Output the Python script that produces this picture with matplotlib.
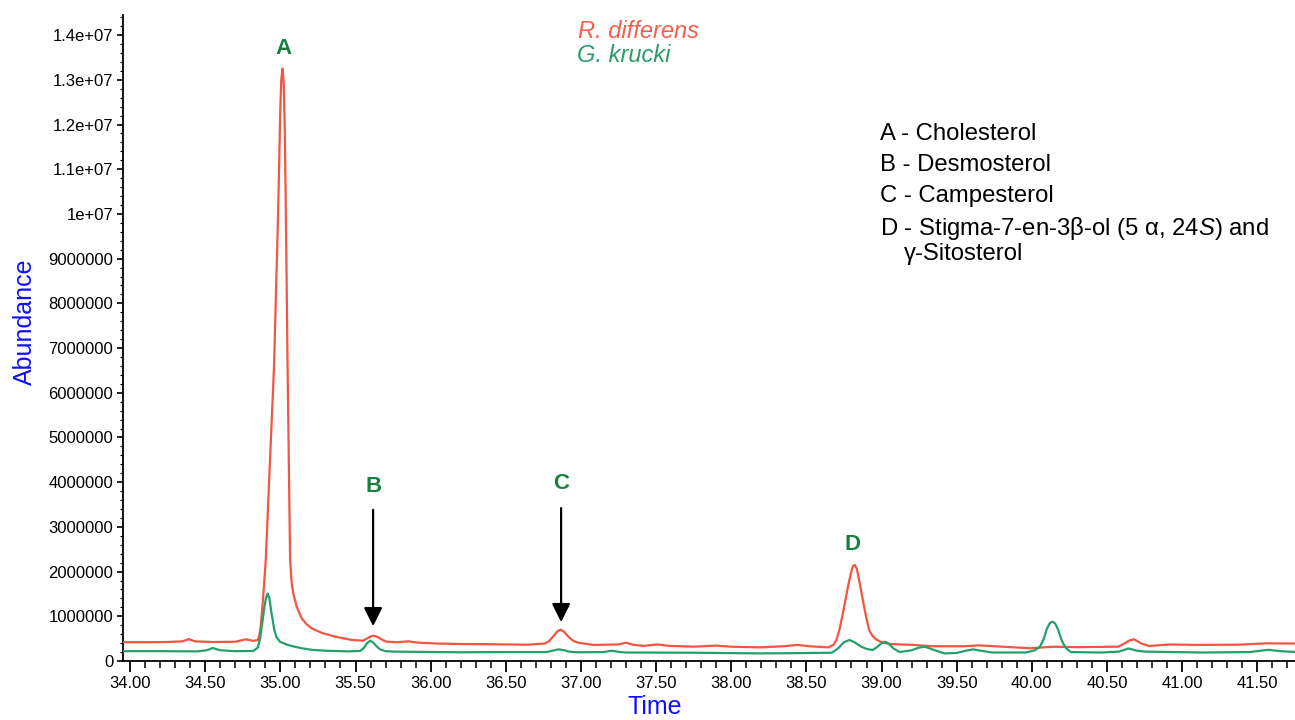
import matplotlib
matplotlib.use("Agg")
import matplotlib.pyplot as plt
from matplotlib.ticker import MultipleLocator, FixedLocator, FixedFormatter

plt.rcParams['font.family'] = ['Liberation Sans', 'DejaVu Sans']
plt.rcParams['mathtext.fontset'] = 'custom'
plt.rcParams['mathtext.rm'] = 'Liberation Sans'
plt.rcParams['mathtext.it'] = 'Liberation Sans:italic'

# ---------------- data (time in min, abundance in millions) ----------------
red_time = [33.95, 34.10, 34.25, 34.35, 34.39, 34.43, 34.55, 34.70, 34.77, 34.82,
            34.85, 34.862, 34.87, 34.885, 34.903, 34.93, 34.958, 34.985, 35.000, 35.006,
            35.014, 35.022, 35.03, 35.04, 35.048, 35.058, 35.065, 35.075, 35.086, 35.109,
            35.142, 35.175, 35.209, 35.275, 35.364, 35.475, 35.55, 35.58, 35.60, 35.62,
            35.645, 35.68, 35.71, 35.78, 35.85, 35.92, 36.05, 36.20, 36.40, 36.64,
            36.76, 36.79, 36.82, 36.845, 36.866, 36.89, 36.92, 36.95, 36.98, 37.08,
            37.25, 37.30, 37.35, 37.42, 37.51, 37.58, 37.75, 37.90, 38.00, 38.19,
            38.35, 38.44, 38.52, 38.646, 38.68, 38.70, 38.72, 38.745, 38.77, 38.795,
            38.81, 38.822, 38.835, 38.855, 38.884, 38.90, 38.918, 38.94, 38.963, 39.00,
            39.055, 39.21, 39.33, 39.55, 39.645, 39.75, 39.99, 40.145, 40.30, 40.576,
            40.62, 40.65, 40.678, 40.70, 40.73, 40.78, 40.917, 41.10, 41.37, 41.56,
            41.76]
red_abund = [0.42, 0.42, 0.425, 0.44, 0.49, 0.44, 0.425, 0.43, 0.485, 0.45,
             0.47, 0.6, 0.8, 1.4, 2.26, 4.4, 6.6, 10.0, 12.4, 13.0,
             13.25, 12.95, 11.8, 9.0, 6.6, 4.0, 2.26, 1.75, 1.51, 1.21,
             0.955, 0.82, 0.73, 0.63, 0.545, 0.47, 0.455, 0.51, 0.55, 0.565,
             0.54, 0.47, 0.43, 0.42, 0.44, 0.41, 0.39, 0.38, 0.375, 0.365,
             0.39, 0.45, 0.57, 0.67, 0.70, 0.65, 0.53, 0.45, 0.41, 0.36,
             0.37, 0.41, 0.36, 0.34, 0.37, 0.34, 0.32, 0.345, 0.32, 0.305,
             0.33, 0.36, 0.33, 0.305, 0.36, 0.47, 0.70, 1.10, 1.55, 1.95,
             2.12, 2.15, 2.07, 1.74, 1.21, 0.95, 0.69, 0.56, 0.485, 0.42,
             0.38, 0.36, 0.33, 0.33, 0.35, 0.33, 0.285, 0.32, 0.31, 0.32,
             0.40, 0.46, 0.485, 0.45, 0.39, 0.335, 0.37, 0.36, 0.365, 0.395,
             0.39]

green_time = [33.95, 34.20, 34.45, 34.51, 34.55, 34.60, 34.70, 34.82, 34.85, 34.865,
              34.876, 34.894, 34.905, 34.916, 34.927, 34.938, 34.96, 34.975, 34.998, 35.04,
              35.076, 35.142, 35.209, 35.30, 35.45, 35.53, 35.555, 35.575, 35.597, 35.615,
              35.64, 35.663, 35.70, 35.75, 36.196, 36.50, 36.77, 36.81, 36.85, 36.89,
              36.92, 36.97, 37.15, 37.205, 37.26, 37.30, 37.75, 38.19, 38.40, 38.67,
              38.71, 38.75, 38.786, 38.82, 38.86, 38.90, 38.94, 38.97, 39.00, 39.027,
              39.05, 39.08, 39.12, 39.20, 39.25, 39.288, 39.33, 39.418, 39.50, 39.56,
              39.61, 39.66, 39.735, 39.963, 40.02, 40.054, 40.08, 40.10, 40.12, 40.138,
              40.155, 40.175, 40.20, 40.224, 40.258, 40.46, 40.58, 40.643, 40.70, 40.75,
              41.14, 41.45, 41.575, 41.65, 41.77]
green_abund = [0.22, 0.22, 0.215, 0.24, 0.29, 0.24, 0.22, 0.225, 0.3, 0.5,
               0.77, 1.21, 1.42, 1.51, 1.40, 1.14, 0.69, 0.53, 0.43, 0.37,
               0.335, 0.285, 0.25, 0.23, 0.215, 0.225, 0.29, 0.39, 0.455, 0.42,
               0.33, 0.26, 0.22, 0.21, 0.195, 0.2, 0.2, 0.23, 0.26, 0.24,
               0.21, 0.195, 0.2, 0.23, 0.2, 0.19, 0.185, 0.17, 0.175, 0.185,
               0.28, 0.42, 0.47, 0.42, 0.33, 0.27, 0.245, 0.31, 0.40, 0.43,
               0.38, 0.28, 0.2, 0.24, 0.30, 0.32, 0.27, 0.17, 0.18, 0.23,
               0.26, 0.23, 0.19, 0.19, 0.24, 0.32, 0.5, 0.72, 0.85, 0.88,
               0.84, 0.7, 0.45, 0.3, 0.2, 0.19, 0.21, 0.28, 0.23, 0.21,
               0.19, 0.2, 0.25, 0.22, 0.2]

series_names = ["R. differens", "G. krucki"]
peak_letters = ["A", "B", "C", "D"]
peak_time = [35.018, 35.617, 36.868, 38.81]
compound_lines = ["A - Cholesterol", "B - Desmosterol", "C - Campesterol",
                  r"D - Stigma-7-en-3β-ol (5 α, 24$\mathit{S}$) and", "γ-Sitosterol"]
x_ticks = [34.0, 34.5, 35.0, 35.5, 36.0, 36.5, 37.0, 37.5, 38.0, 38.5, 39.0, 39.5, 40.0, 40.5, 41.0, 41.5]
y_ticks = [0, 1e6, 2e6, 3e6, 4e6, 5e6, 6e6, 7e6, 8e6, 9e6, 1e7, 1.1e7, 1.2e7, 1.3e7, 1.4e7]
y_tick_labels = ["0", "1000000", "2000000", "3000000", "4000000", "5000000", "6000000",
                 "7000000", "8000000", "9000000", "1e+07", "1.1e+07", "1.2e+07", "1.3e+07", "1.4e+07"]

# ---------------- styling ----------------
RED = "#f25540"
GREEN = "#23a06c"
LETTER_GREEN = "#17803f"
BLUE = "#1010ff"

fig = plt.figure(figsize=(12.95, 7.2), dpi=100)
ax = fig.add_axes([123 / 1295, 1 - 661 / 720, 1 - 123 / 1295, (661 - 15) / 720])

ax.plot(red_time, [v * 1e6 for v in red_abund], color=RED, lw=1.6, zorder=3,
        solid_joinstyle='round')
ax.plot(green_time, [v * 1e6 for v in green_abund], color=GREEN, lw=1.6, zorder=4,
        solid_joinstyle='round')

ax.set_xlim(33.953, 41.751)
ax.set_ylim(0, 14.45e6)

for s in ["top", "right"]:
    ax.spines[s].set_visible(False)
for s in ["left", "bottom"]:
    ax.spines[s].set_linewidth(1.3)

ax.xaxis.set_major_locator(FixedLocator(x_ticks))
ax.set_xticklabels([f"{t:.2f}" for t in x_ticks])
ax.xaxis.set_minor_locator(MultipleLocator(0.1))
ax.yaxis.set_major_locator(FixedLocator(y_ticks))
ax.yaxis.set_major_formatter(FixedFormatter(y_tick_labels))
ax.yaxis.set_minor_locator(MultipleLocator(2e5))

ax.tick_params(axis='x', which='major', length=8, width=1.3, labelsize=12, pad=3)
ax.tick_params(axis='x', which='minor', length=5, width=1.1)
ax.tick_params(axis='y', which='major', length=4, width=1.2, labelsize=12, pad=3)
ax.tick_params(axis='y', which='minor', length=2, width=0.8)

ax.set_xlabel("Time", color=BLUE, fontsize=18, va='center')
ax.set_ylabel("Abundance", color=BLUE, fontsize=18, va='center')
ax.xaxis.set_label_coords((655 - 123) / 1172, (661 - 707) / 646)
ax.yaxis.set_label_coords((25 - 123) / 1172, (661 - 322) / 646)

# peak letters
letter_y = [13.71e6, 3.91e6, 3.98e6, 2.6e6]
for lt, tx, ly in zip(peak_letters, peak_time, letter_y):
    ax.text(tx, ly, lt, color=LETTER_GREEN, fontsize=16, fontweight='bold',
            ha='center', va='center')

# arrows for B and C
arrow_specs = [(peak_time[1], 3.38e6, 0.78e6), (peak_time[2], 3.42e6, 0.87e6)]
for tx, y0, y1 in arrow_specs:
    ax.annotate("", xy=(tx, y1), xytext=(tx, y0),
                arrowprops=dict(arrowstyle='-|>', color='black', lw=1.6,
                                mutation_scale=28, shrinkA=0, shrinkB=0))

# series legend (colored names)
fig.text(578 / 1295, 1 - 32 / 720, series_names[0], color="#f4604a", fontsize=17,
         style='italic', ha='left', va='center')
fig.text(577 / 1295, 1 - 56 / 720, series_names[1], color="#2a9c6c", fontsize=17,
         style='italic', ha='left', va='center')

# compound list
line_px = [(880, 134), (880, 165), (880, 196), (880, 228), (904, 254)]
for txt, (px, py) in zip(compound_lines, line_px):
    fig.text(px / 1295, 1 - py / 720, txt, color='black', fontsize=17.2,
             ha='left', va='center')

fig.savefig("out.png", dpi=100, facecolor='white')
